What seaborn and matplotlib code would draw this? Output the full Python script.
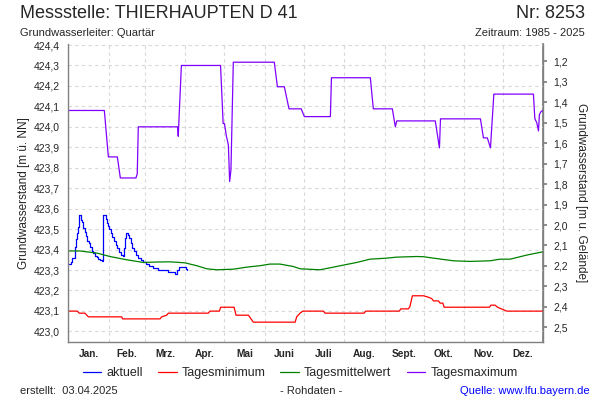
import matplotlib
matplotlib.use("Agg")
import matplotlib.pyplot as plt
import seaborn as sns
import pandas as pd
from matplotlib.ticker import FuncFormatter, FixedLocator

# ---------------- data ----------------
month_labels = ["Jan.", "Feb.", "Mrz.", "Apr.", "Mai", "Juni", "Juli",
                "Aug.", "Sept.", "Okt.", "Nov.", "Dez."]
month_starts = [0, 31, 59, 90, 120, 151, 181, 212, 243, 273, 304, 334, 365]

aktuell_day = [0.5, 2.1, 2.8, 4.2, 4.9, 5.7, 6.5, 7.2, 8.0, 8.5, 9.5, 9.8, 10.5, 11.5,
               12.6, 13.6, 14.6, 15.7, 16.7, 18.0, 19.2, 20.5, 21.8, 23.1, 24.4, 26.1,
               26.9, 27.7, 28.7, 29.5, 30.5, 31.5, 32.6, 33.8, 35.1, 36.4, 37.7, 39.0,
               40.3, 41.8, 42.8, 43.6, 44.4, 45.7, 46.7, 48.0, 49.2, 50.5, 52.0, 53.8,
               55.6, 57.6, 59.7, 62.3, 65.3, 69.2, 73.0, 76.9, 82.0, 83.3, 85.3, 88.9,
               90.5, 91.5]
aktuell_val = [423.327, 423.337, 423.358, 423.358, 423.412, 423.451, 423.481, 423.510,
               423.554, 423.569, 423.569, 423.546, 423.533, 423.505, 423.484, 423.464,
               423.444, 423.432, 423.412, 423.395, 423.383, 423.370, 423.363, 423.353,
               423.350, 423.344, 423.567, 423.569, 423.549, 423.530, 423.516, 423.500,
               423.481, 423.461, 423.440, 423.423, 423.407, 423.389, 423.373, 423.370,
               423.407, 423.456, 423.481, 423.472, 423.456, 423.432, 423.407, 423.391,
               423.374, 423.361, 423.350, 423.339, 423.330, 423.321, 423.309, 423.301,
               423.298, 423.290, 423.280, 423.301, 423.314, 423.317, 423.307, 423.301]

min_day = [0, 6.9, 8.5, 12.8, 15.4, 41, 41.8, 70.5, 71.8, 75.6, 76.9, 107.6, 108.9,
           116.1, 117.1, 127.4, 128.9, 138.4, 142.2, 174.3, 175.5, 178.1, 180.2, 196,
           197.3, 227.3, 228.6, 254.4, 255.5, 261.3, 262.5, 264.4, 272.9, 276.7, 279.3,
           280.6, 284.4, 285.7, 287.8, 288.8, 323.6, 324.7, 328, 329.8, 333.1, 337, 365]
min_val = [423.099, 423.099, 423.089, 423.089, 423.071, 423.071, 423.061, 423.061,
           423.071, 423.079, 423.089, 423.089, 423.099, 423.099, 423.118, 423.118,
           423.079, 423.079, 423.045, 423.045, 423.071, 423.089, 423.099, 423.099,
           423.089, 423.089, 423.099, 423.099, 423.110, 423.110, 423.121, 423.174,
           423.174, 423.167, 423.160, 423.149, 423.149, 423.138, 423.138, 423.118,
           423.118, 423.128, 423.128, 423.118, 423.109, 423.099, 423.099]

mean_day = [0, 9, 21.8, 32, 44.9, 57.6, 68, 78.2, 89.7, 98.7, 106.4, 114, 126.8, 137.1,
            147.3, 155, 162.7, 173, 178.1, 193.4, 203.7, 211.4, 221.7, 231.9, 244.7,
            252.4, 267.8, 272.9, 280.6, 295.9, 308.8, 324.1, 331.8, 339.5, 352.3,
            363.9, 365]
mean_val = [423.393, 423.393, 423.383, 423.366, 423.350, 423.337, 423.339, 423.340,
            423.335, 423.321, 423.306, 423.301, 423.304, 423.314, 423.321, 423.329,
            423.329, 423.317, 423.306, 423.301, 423.314, 423.324, 423.337, 423.353,
            423.358, 423.363, 423.366, 423.365, 423.358, 423.345, 423.342, 423.345,
            423.353, 423.353, 423.373, 423.388, 423.390]

max_day = [0, 27.7, 30.8, 37.7, 40, 52, 53, 53.8, 84, 84.5, 86.9, 117, 119, 120, 121.5,
           123, 124, 125, 126.8, 158.3, 160.7, 166, 169.6, 179, 181.4, 201.4, 202.2,
           232.1, 234.4, 249, 251.3, 252.4, 282, 285.2, 286, 316.7, 319, 322, 324.4,
           327, 357.4, 358.5, 360, 361.3, 362, 363.5, 365]
max_val = [424.080, 424.080, 423.853, 423.853, 423.750, 423.750, 423.770, 424.000,
           424.000, 423.954, 424.300, 424.300, 424.016, 424.016, 423.954, 423.913,
           423.733, 423.790, 424.316, 424.316, 424.196, 424.196, 424.088, 424.088,
           424.050, 424.050, 424.240, 424.240, 424.088, 424.088, 424.000, 424.029,
           424.029, 423.897, 424.039, 424.039, 423.946, 423.946, 423.897, 424.160,
           424.160, 424.040, 424.020, 423.980, 424.060, 424.077, 424.077]

left_ticks = [423.0, 423.1, 423.2, 423.3, 423.4, 423.5, 423.6, 423.7, 423.8, 423.9,
              424.0, 424.1, 424.2, 424.3, 424.4]
right_ticks = [1.2, 1.3, 1.4, 1.5, 1.6, 1.7, 1.8, 1.9, 2.0, 2.1, 2.2, 2.3, 2.4, 2.5]
ground_level = 425.52

# ---------------- style ----------------
sns.set_theme(style="white")
plt.rcParams['font.family'] = ['Liberation Sans', 'DejaVu Sans']

fig = plt.figure(figsize=(6, 4), dpi=100)
ax = fig.add_axes([0.1138, 0.145, 0.7917, 0.745])

series = [
    (aktuell_day, aktuell_val, "#0000FF", "aktuell", "steps-post"),
    (min_day, min_val, "#FF0000", "Tagesminimum", "default"),
    (mean_day, mean_val, "#008000", "Tagesmittelwert", "default"),
    (max_day, max_val, "#8000FF", "Tagesmaximum", "default"),
]
for d, v, c, lab, ds in series:
    df = pd.DataFrame({"day": d, "value": v})
    sns.lineplot(data=df, x="day", y="value", ax=ax, color=c, label=lab,
                 estimator=None, sort=False, linewidth=0.9, drawstyle=ds)

ax.set_xlim(0, 365)
ax.set_ylim(422.948, 424.405)

comma = FuncFormatter(lambda v, p: f"{v:.1f}".replace(".", ","))

ax.yaxis.set_major_locator(FixedLocator(left_ticks))
ax.yaxis.set_major_formatter(comma)
ax.xaxis.set_major_locator(FixedLocator(month_starts))
ax.set_xticklabels([])
mids = [(month_starts[i] + month_starts[i + 1]) / 2 for i in range(12)]
ax.xaxis.set_minor_locator(FixedLocator(mids))
ax.set_xticklabels(month_labels, minor=True)
ax.tick_params(axis="x", which="minor", length=0, labelsize=7.3, pad=5)
for t in ax.get_xticklabels(minor=True):
    t.set_fontweight("bold")
ax.tick_params(axis="x", which="major", length=3, color="#808080", direction="out")
ax.tick_params(axis="y", length=3, color="#808080", labelsize=7.5, pad=3)

ax.grid(True, which="major", color="#d8d8d8", linestyle=(0, (3, 3)), linewidth=0.8)

for s in ["left", "bottom", "right"]:
    ax.spines[s].set_color("#808080")
    ax.spines[s].set_linewidth(1.0)
ax.spines["top"].set_visible(False)

ax.set_xlabel("")
ax.set_ylabel("Grundwasserstand [m ü. NN]", fontsize=8.5, labelpad=3)

sec = ax.secondary_yaxis("right", functions=(lambda h: ground_level - h,
                                            lambda d: ground_level - d))
sec.yaxis.set_major_locator(FixedLocator(right_ticks))
sec.yaxis.set_major_formatter(comma)
sec.tick_params(length=3, color="#808080", labelsize=7.5, pad=4)
sec.spines["right"].set_color("#808080")
sec.set_ylabel("Grundwasserstand [m u. Gelände]", fontsize=8.5, rotation=270,
               labelpad=14)

ax.get_legend().remove()
handles, labels = ax.get_legend_handles_labels()
fig.legend(handles, labels, loc="center", bbox_to_anchor=(0.5, 1 - 373 / 400),
           ncol=4, frameon=False, fontsize=9, handlelength=1.5, handletextpad=0.4,
           columnspacing=1.2)

# texts
fig.text(20 / 600, 1 - 14 / 400, "Messstelle: THIERHAUPTEN D 41", fontsize=13,
         va="center", ha="left")
fig.text(585 / 600, 1 - 14 / 400, "Nr: 8253", fontsize=13, va="center", ha="right")
fig.text(20 / 600, 1 - 33 / 400, "Grundwasserleiter: Quartär", fontsize=8,
         va="center", ha="left")
fig.text(585 / 600, 1 - 33 / 400, "Zeitraum: 1985 - 2025", fontsize=8,
         va="center", ha="right")
fig.text(20 / 600, 1 - 391 / 400, "erstellt:  03.04.2025", fontsize=8,
         va="center", ha="left")
fig.text(311 / 600, 1 - 391 / 400, "- Rohdaten -", fontsize=8, va="center",
         ha="center")
fig.text(590 / 600, 1 - 391 / 400, "Quelle: www.lfu.bayern.de", fontsize=8,
         va="center", ha="right", color="#0000FF")

fig.savefig("out.png", dpi=100)
